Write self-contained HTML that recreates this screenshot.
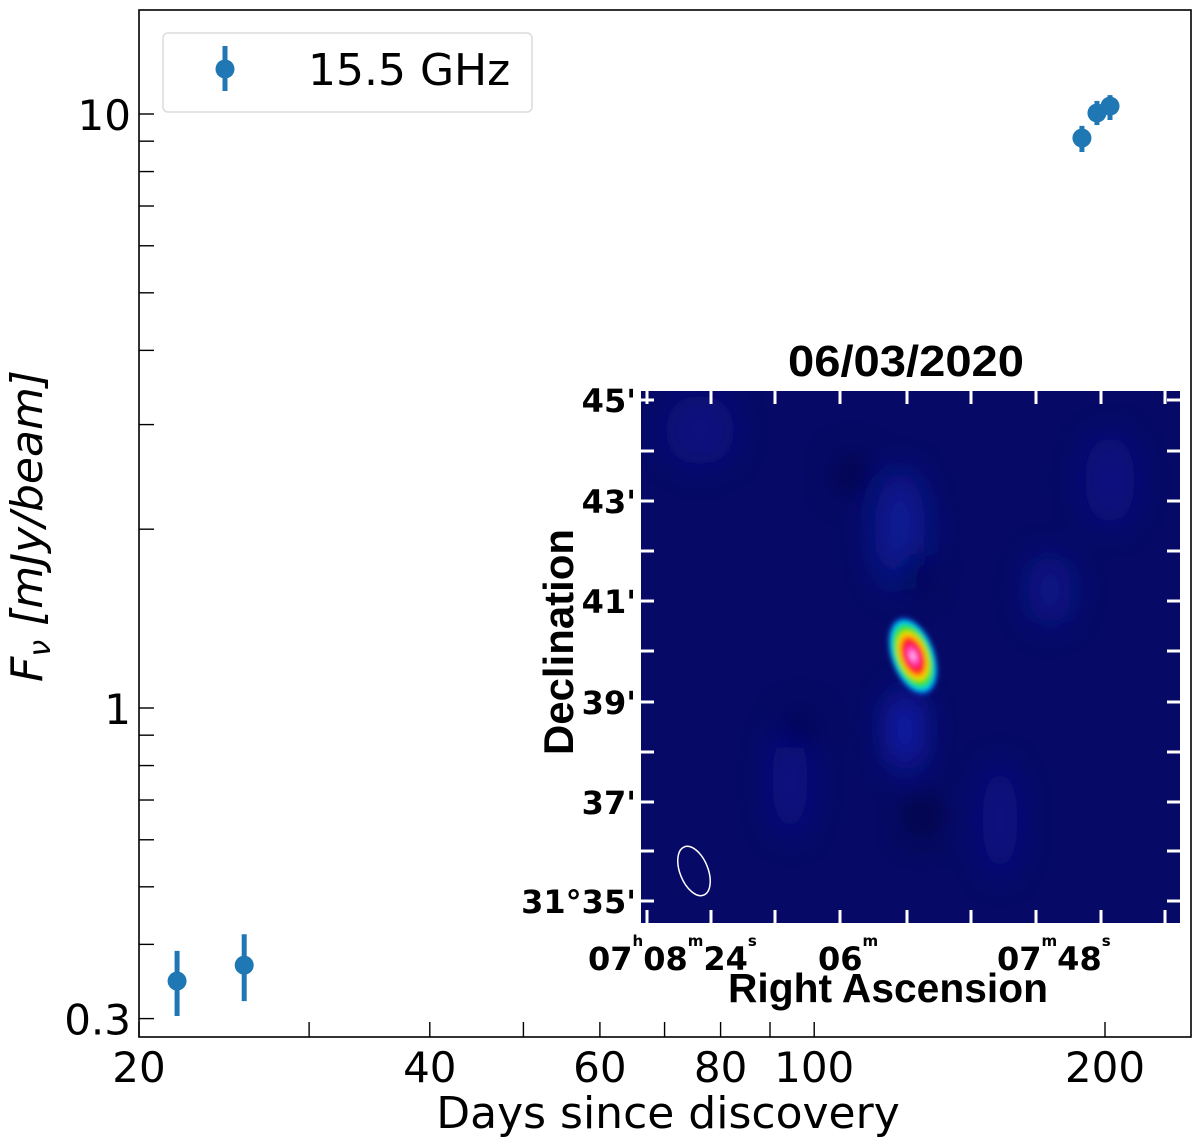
<!DOCTYPE html>
<html><head><meta charset="utf-8">
<style>
html,body{margin:0;padding:0;background:#fff;}
svg{display:block;}
text{font-family:"DejaVu Sans","Liberation Sans",sans-serif;}
.b{font-weight:bold;font-family:"Liberation Sans",sans-serif;}
</style></head>
<body>
<svg id="chart" width="1200" height="1146" viewBox="0 0 1200 1146" xmlns="http://www.w3.org/2000/svg">
<defs>
  <filter id="blur" filterUnits="userSpaceOnUse" x="500" y="250" width="800" height="800"><feGaussianBlur stdDeviation="16"/></filter>
  <filter id="blur2" filterUnits="userSpaceOnUse" x="800" y="550" width="250" height="250"><feGaussianBlur stdDeviation="2.5"/></filter>
  <clipPath id="imgclip"><rect x="641" y="391" width="539" height="532"/></clipPath>
  <radialGradient id="src" cx="50%" cy="50%" r="50%">
    <stop offset="0" stop-color="#ffe0ff"/>
    <stop offset="0.18" stop-color="#ff40c0"/>
    <stop offset="0.38" stop-color="#ff1010"/>
    <stop offset="0.55" stop-color="#ffe000"/>
    <stop offset="0.7" stop-color="#20e020"/>
    <stop offset="0.85" stop-color="#00d0ff"/>
    <stop offset="1" stop-color="#0020ff" stop-opacity="0"/>
  </radialGradient>
</defs>
<g id="inset">
  <rect x="641" y="391" width="539" height="532" fill="#060a66"/>
  <g clip-path="url(#imgclip)">
  <g filter="url(#blur)">
    <ellipse cx="900" cy="530" rx="25" ry="60" fill="#1424b8" opacity="0.6"/>
    <ellipse cx="905" cy="730" rx="16" ry="40" fill="#1a2ad8" opacity="0.7"/>
    <ellipse cx="1050" cy="590" rx="22" ry="35" fill="#1222b0" opacity="0.5"/>
    <ellipse cx="1110" cy="480" rx="25" ry="45" fill="#0e1aa0" opacity="0.5"/>
    <ellipse cx="790" cy="780" rx="18" ry="55" fill="#0e1ca8" opacity="0.5"/>
    <ellipse cx="700" cy="430" rx="35" ry="35" fill="#0e1a9c" opacity="0.5"/>
    <ellipse cx="1000" cy="820" rx="18" ry="55" fill="#0e1aa8" opacity="0.5"/>
    <ellipse cx="914" cy="573" rx="12" ry="20" fill="#000028" opacity="0.9"/>
    <ellipse cx="922" cy="815" rx="12" ry="22" fill="#000028" opacity="0.9"/>
    <ellipse cx="853" cy="475" rx="15" ry="20" fill="#00003c" opacity="0.8"/>
    <ellipse cx="800" cy="730" rx="14" ry="18" fill="#00003c" opacity="0.8"/>
  </g>
  </g>
  <ellipse cx="913" cy="656" rx="23" ry="42" fill="url(#src)" transform="rotate(-20 913 656)" filter="url(#blur2)"/>
  <ellipse cx="694" cy="871" rx="14" ry="26" fill="none" stroke="#fff" stroke-width="1.5" transform="rotate(-22 694 871)"/>
  <g id="insetTicks" stroke="#fff" stroke-width="3"></g>
  <text class="b" x="906" y="376" font-size="44" text-anchor="middle" textLength="236" lengthAdjust="spacingAndGlyphs">06/03/2020</text>
  <text class="b" x="573" y="642" font-size="42" text-anchor="middle" transform="rotate(-90 573 642)" textLength="226" lengthAdjust="spacingAndGlyphs">Declination</text>
  <text class="b" x="888" y="1002" font-size="41" text-anchor="middle" textLength="320" lengthAdjust="spacingAndGlyphs">Right Ascension</text>
  <g class="b" font-size="32" text-anchor="end">
    <text x="636" y="412">45'</text><text x="636" y="513">43'</text><text x="636" y="613">41'</text>
    <text x="636" y="714">39'</text><text x="636" y="814">37'</text><text x="636" y="913">31°35'</text>
  </g>
  <g class="b" font-size="32">
    <text x="588" y="970">07<tspan font-size="15" dy="-24">h</tspan><tspan dy="24">08</tspan><tspan font-size="15" dy="-24">m</tspan><tspan dy="24">24</tspan><tspan font-size="15" dy="-24">s</tspan></text>
    <text x="818" y="970">06<tspan font-size="15" dy="-24">m</tspan></text>
    <text x="997" y="970">07<tspan font-size="15" dy="-24">m</tspan><tspan dy="24">48</tspan><tspan font-size="15" dy="-24">s</tspan></text>
  </g>
</g>
<g id="axes"></g>
<g id="marks"></g>
<g>
  <rect x="163" y="33" width="369" height="79" rx="5" fill="#fff" fill-opacity="0.8" stroke="#dcdcdc" stroke-width="1.5"/>
  <line x1="225" y1="46" x2="225" y2="91" stroke="#1f77b4" stroke-width="5"/>
  <circle cx="225" cy="69" r="9.5" fill="#1f77b4"/>
  <text x="308" y="85" font-size="44">15.5 GHz</text>
</g>
<text x="668" y="1128" font-size="44" text-anchor="middle">Days since discovery</text>
<text x="42" y="526" font-size="44" text-anchor="middle" font-style="italic" transform="rotate(-90 42 526)">F<tspan font-size="30" dy="8">ν</tspan><tspan dy="-8"> [mJy/beam]</tspan></text>
</svg>
<script>
const days = [21.9, 25.7, 189.3, 196.2, 202.4];
const flux = [0.347, 0.369, 9.11, 10.04, 10.31];
const fluxLow = [0.303, 0.321, 8.63, 9.58, 9.77];
const fluxHigh = [0.390, 0.416, 9.55, 10.52, 10.76];
const xTickLabels = [20, 40, 60, 80, 100, 200];
const xTicks = [20, 30, 40, 50, 60, 70, 80, 90, 100, 200];
const yTickLabels = ["0.3", "1", "10"];
const yTicks = [0.3,0.4,0.5,0.6,0.7,0.8,0.9,1,2,3,4,5,6,7,8,9,10];

const L=139,R=1191,T=10,B=1037;
const xDec=966, yDec=594;
function xs(v){return L+(Math.log10(v)-Math.log10(20))*xDec;}
function ys(v){return 708-Math.log10(v)*yDec;}
const NS="http://www.w3.org/2000/svg";
function mk(tag,attrs,parent){const e=document.createElementNS(NS,tag);for(const k in attrs)e.setAttribute(k,attrs[k]);parent.appendChild(e);return e;}

const axes=document.getElementById('axes');
const frame=mk('rect',{x:L,y:T,width:R-L,height:B-T,fill:'none',stroke:'#000','stroke-width':1.6},axes);


xTicks.forEach(v=>{const t=mk('line',{x1:xs(v),x2:xs(v),y1:B,y2:B-15,stroke:'#000','stroke-width':1.4},axes);

});
xTickLabels.forEach(v=>{const t=mk('text',{x:xs(v),y:B+45,'font-size':42,'text-anchor':'middle'},axes);t.textContent=v;

});
yTicks.forEach(v=>{const t=mk('line',{x1:L,x2:L+15,y1:ys(v),y2:ys(v),stroke:'#000','stroke-width':1.4},axes);

});
yTickLabels.forEach(v=>{const t=mk('text',{x:L-8,y:ys(parseFloat(v))+16,'font-size':42,'text-anchor':'end'},axes);t.textContent=v;

});

const marks=document.getElementById('marks');
days.forEach((d,i)=>{
  const g=mk('g',{},marks);
  
  
  const eb=mk('line',{x1:xs(d),x2:xs(d),y1:ys(fluxHigh[i]),y2:ys(fluxLow[i]),stroke:'#1f77b4','stroke-width':5},g);
  
  
  const c=mk('circle',{cx:xs(d),cy:ys(flux[i]),r:9.5,fill:'#1f77b4'},g);
  
  
});

const it=document.getElementById('insetTicks');


[400,451,501,551,601,651,702,752,802,851,901].forEach(y=>{
  mk('line',{x1:641,x2:654,y1:y,y2:y},it);
  mk('line',{x1:1167,x2:1180,y1:y,y2:y},it);
});
[647,711,775,840,907,971,1036,1101,1165].forEach(x=>{
  mk('line',{x1:x,x2:x,y1:391,y2:404},it);
  mk('line',{x1:x,x2:x,y1:910,y2:923},it);
});
</script>
</body></html>
